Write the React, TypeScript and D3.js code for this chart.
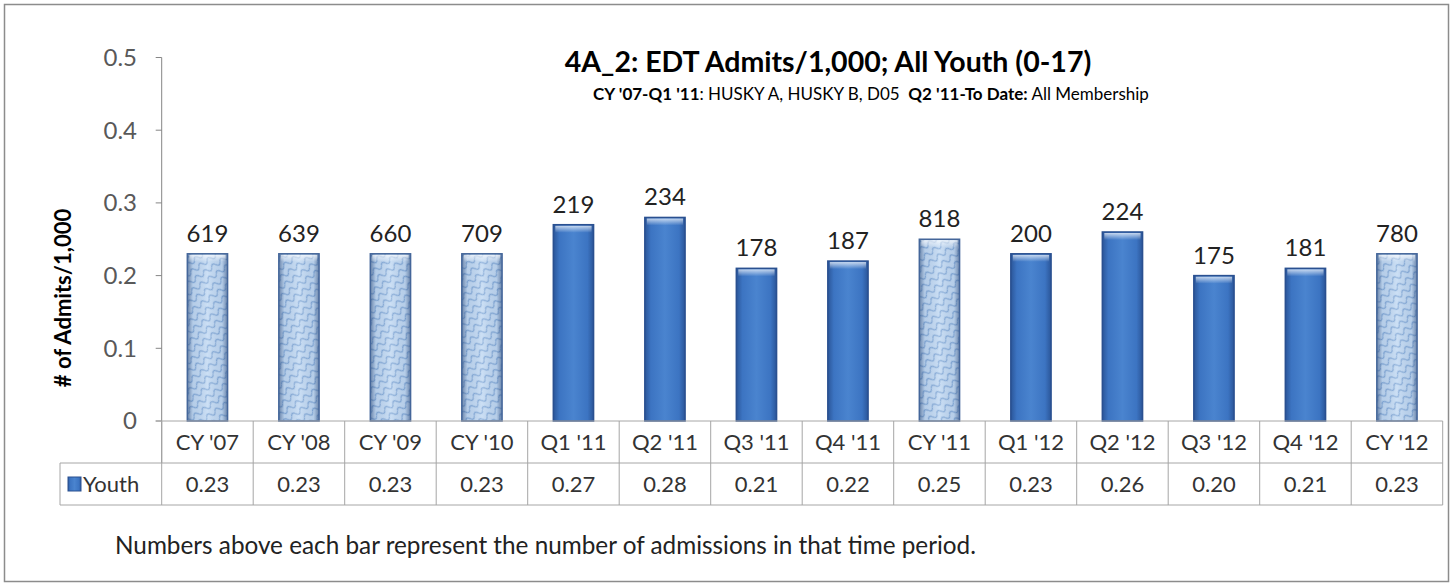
import { useEffect, useRef } from "react"
import * as d3 from "d3"

// periods shown along the x axis / table header
const categories = ["CY '07", "CY '08", "CY '09", "CY '10", "Q1 '11", "Q2 '11", "Q3 '11", "Q4 '11", "CY '11", "Q1 '12", "Q2 '12", "Q3 '12", "Q4 '12", "CY '12"]
// admits per 1,000 (bar heights, table row)
const rates = [0.23, 0.23, 0.23, 0.23, 0.27, 0.28, 0.21, 0.22, 0.25, 0.23, 0.26, 0.20, 0.21, 0.23]
// number of admissions (labels above bars)
const admits = [619, 639, 660, 709, 219, 234, 178, 187, 818, 200, 224, 175, 181, 780]
const yTicks = [0, 0.1, 0.2, 0.3, 0.4, 0.5]
const seriesName = "Youth"

const W = 1453
const H = 586
const FONT = "Lato, 'Open Sans', sans-serif"

const App = () => {
  const svgRef = useRef<SVGSVGElement | null>(null)

  useEffect(() => {
    const svg = d3.select(svgRef.current)
      .attr("width", W)
      .attr("height", H)

    svg.selectAll("*").remove()

    const left = 161.7
    const right = 1442.7
    const top = 57.5
    const bottom = 421
    const rowH = 42
    const legendLeft = 60
    const grid = "#a6a6a6"

    const x = d3.scaleBand<string>()
      .domain(categories)
      .range([left, right])
      .paddingInner(0.56)
      .paddingOuter(0.28)

    const y = d3.scaleLinear()
      .domain([0, 0.5])
      .range([bottom, top])

    const defs = svg.append("defs")

    // excel-ish "wave" texture for the calendar year bars
    const pat = defs.append("pattern")
      .attr("id", "wave")
      .attr("patternUnits", "userSpaceOnUse")
      .attr("width", 10)
      .attr("height", 8)
      .attr("patternTransform", "rotate(-35)")
    pat.append("rect").attr("width", 10).attr("height", 8).attr("fill", "#c3daf3")
    pat.append("path")
      .attr("d", "M0 4.5 Q2.5 0 5 4.5 T10 4.5")
      .attr("fill", "none")
      .attr("stroke", "#84aad8")
      .attr("stroke-width", 1.3)

    const shade = defs.append("linearGradient").attr("id", "edge").attr("x1", 0).attr("x2", 1).attr("y1", 0).attr("y2", 0)
    ;[[0, "#1e3c6e", 0.55], [0.14, "#1e3c6e", 0.08], [0.5, "#ffffff", 0.15], [0.86, "#1e3c6e", 0.08], [1, "#1e3c6e", 0.55]]
      .forEach(([o, c, a]) => shade.append("stop").attr("offset", o as number).attr("stop-color", c as string).attr("stop-opacity", a as number))

    const solid = defs.append("linearGradient").attr("id", "solid").attr("x1", 0).attr("x2", 1).attr("y1", 0).attr("y2", 0)
    ;[[0, "#2b5699"], [0.15, "#3c74c2"], [0.5, "#4a84cf"], [0.85, "#3c74c2"], [1, "#2b5699"]]
      .forEach(([o, c]) => solid.append("stop").attr("offset", o as number).attr("stop-color", c as string))

    const topGlow = defs.append("linearGradient").attr("id", "topglow").attr("x1", 0).attr("x2", 0).attr("y1", 0).attr("y2", 1)
    topGlow.append("stop").attr("offset", 0).attr("stop-color", "#ffffff").attr("stop-opacity", 0.7)
    topGlow.append("stop").attr("offset", 1).attr("stop-color", "#ffffff").attr("stop-opacity", 0)

    // outer frame
    svg.append("rect")
      .attr("x", 4.5).attr("y", 4.5)
      .attr("width", 1444).attr("height", 577)
      .attr("fill", "#fff")
      .attr("stroke", "#8c8c8c")
      .attr("stroke-width", 1.5)

    // title
    svg.append("text")
      .attr("x", 828).attr("y", 72)
      .attr("text-anchor", "middle")
      .attr("font-family", FONT)
      .attr("font-weight", "bold")
      .attr("font-size", 28.5)
      .attr("fill", "#000")
      .text("4A_2: EDT Admits/1,000; All Youth (0-17)")

    const sub = svg.append("text")
      .attr("x", 871).attr("y", 100)
      .attr("text-anchor", "middle")
      .attr("font-family", FONT)
      .attr("font-size", 17)
      .attr("fill", "#000")
    sub.append("tspan").attr("font-weight", "bold").text("CY '07-Q1 '11")
    sub.append("tspan").text(": HUSKY A, HUSKY B, D05\u00a0\u00a0")
    sub.append("tspan").attr("font-weight", "bold").text("Q2 '11-To Date:")
    sub.append("tspan").text(" All Membership")

    // y axis
    const yAxis = svg.append("g")
    yAxis.append("line")
      .attr("x1", left).attr("x2", left)
      .attr("y1", y(0.5)).attr("y2", bottom + rowH)
      .attr("stroke", "#868686")
    yAxis.selectAll("line.tick")
      .data(yTicks)
      .enter()
      .append("line")
      .attr("class", "tick")
      .attr("x1", left - 6).attr("x2", left)
      .attr("y1", d => y(d)).attr("y2", d => y(d))
      .attr("stroke", "#868686")
    yAxis.selectAll("text")
      .data(yTicks)
      .enter()
      .append("text")
      .attr("x", 137)
      .attr("y", d => y(d))
      .attr("dy", "0.35em")
      .attr("text-anchor", "end")
      .attr("font-family", FONT)
      .attr("font-size", 24)
      .attr("fill", "#595959")
      .text(d => d3.format("")(d))

    svg.append("text")
      .attr("transform", `translate(71,${298}) rotate(-90)`)
      .attr("text-anchor", "middle")
      .attr("font-family", FONT)
      .attr("font-weight", "bold")
      .attr("font-size", 22)
      .attr("fill", "#000")
      .text("# of Admits/1,000")

    // bars
    const isYear = (c: string) => c.startsWith("CY")
    const bars = svg.append("g")
      .selectAll("g")
      .data(categories.map((c, i) => ({ c, v: rates[i], n: admits[i] })))
      .enter()
      .append("g")

    bars.append("rect")
      .attr("x", d => x(d.c)!)
      .attr("y", d => y(d.v))
      .attr("width", x.bandwidth())
      .attr("height", d => bottom - y(d.v))
      .attr("fill", d => isYear(d.c) ? "url(#wave)" : "url(#solid)")

    bars.filter(d => isYear(d.c))
      .append("rect")
      .attr("x", d => x(d.c)!)
      .attr("y", d => y(d.v))
      .attr("width", x.bandwidth())
      .attr("height", d => bottom - y(d.v))
      .attr("fill", "url(#edge)")

    bars.append("rect")
      .attr("x", d => x(d.c)! + 2)
      .attr("y", d => y(d.v) + 1)
      .attr("width", x.bandwidth() - 4)
      .attr("height", 7)
      .attr("fill", "url(#topglow)")

    bars.append("rect")
      .attr("x", d => x(d.c)!)
      .attr("y", d => y(d.v))
      .attr("width", x.bandwidth())
      .attr("height", d => bottom - y(d.v))
      .attr("fill", "none")
      .attr("stroke", d => isYear(d.c) ? "#44669a" : "#2a5090")
      .attr("stroke-width", 1.5)

    bars.append("text")
      .attr("x", d => x(d.c)! + x.bandwidth() / 2)
      .attr("y", d => y(d.v) - 12)
      .attr("text-anchor", "middle")
      .attr("font-family", FONT)
      .attr("font-size", 24)
      .attr("fill", "#222")
      .text(d => d.n)

    // data table
    const table = svg.append("g")
    const step = x.step()
    const colEdges = d3.range(categories.length + 1).map(i => left + i * step)

    table.append("line")
      .attr("x1", left - 6).attr("x2", right)
      .attr("y1", bottom).attr("y2", bottom)
      .attr("stroke", grid)
    table.append("line")
      .attr("x1", legendLeft).attr("x2", right)
      .attr("y1", bottom + rowH).attr("y2", bottom + rowH)
      .attr("stroke", grid)
    table.append("line")
      .attr("x1", legendLeft).attr("x2", right)
      .attr("y1", bottom + 2 * rowH).attr("y2", bottom + 2 * rowH)
      .attr("stroke", grid)
    table.append("line")
      .attr("x1", legendLeft).attr("x2", legendLeft)
      .attr("y1", bottom + rowH).attr("y2", bottom + 2 * rowH)
      .attr("stroke", grid)
    table.selectAll("line.col")
      .data(colEdges.slice(1))
      .enter()
      .append("line")
      .attr("class", "col")
      .attr("x1", d => d).attr("x2", d => d)
      .attr("y1", bottom).attr("y2", bottom + 2 * rowH)
      .attr("stroke", grid)
    table.append("line")
      .attr("x1", left).attr("x2", left)
      .attr("y1", bottom).attr("y2", bottom + 2 * rowH)
      .attr("stroke", grid)

    table.selectAll("text.cat")
      .data(categories)
      .enter()
      .append("text")
      .attr("class", "cat")
      .attr("x", d => x(d)! + x.bandwidth() / 2)
      .attr("y", bottom + rowH / 2)
      .attr("dy", "0.35em")
      .attr("text-anchor", "middle")
      .attr("font-family", FONT)
      .attr("font-size", 22)
      .attr("fill", "#333")
      .text(d => d)

    table.selectAll("text.val")
      .data(rates)
      .enter()
      .append("text")
      .attr("class", "val")
      .attr("x", (_, i) => x(categories[i])! + x.bandwidth() / 2)
      .attr("y", bottom + rowH * 1.5)
      .attr("dy", "0.35em")
      .attr("text-anchor", "middle")
      .attr("font-family", FONT)
      .attr("font-size", 22)
      .attr("fill", "#333")
      .text(d => d3.format(".2f")(d))

    // legend key
    table.append("rect")
      .attr("x", 68).attr("y", bottom + rowH * 1.5 - 7)
      .attr("width", 13).attr("height", 14)
      .attr("fill", "url(#solid)")
      .attr("stroke", "#2a5090")
    table.append("text")
      .attr("x", 83)
      .attr("y", bottom + rowH * 1.5)
      .attr("dy", "0.35em")
      .attr("font-family", FONT)
      .attr("font-size", 22)
      .attr("fill", "#333")
      .text(seriesName)

    // footnote
    svg.append("text")
      .attr("x", 115).attr("y", 554)
      .attr("font-family", FONT)
      .attr("font-size", 24.3)
      .attr("fill", "#222")
      .text("Numbers above each bar represent the number of admissions in that time period.")
  }, [])

  return <svg ref={svgRef} style={{ position: "absolute", left: 0, top: 0 }}></svg>
}

export default App
